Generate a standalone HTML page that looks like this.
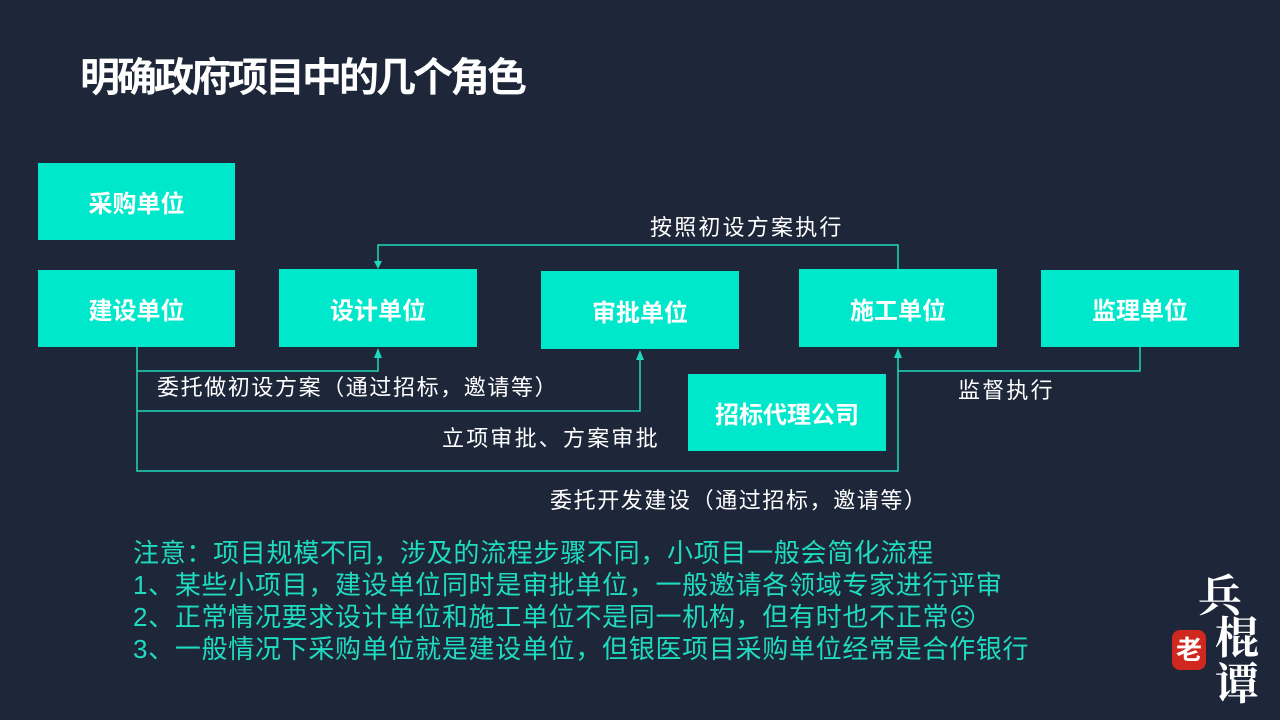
<!DOCTYPE html>
<html><head><meta charset="utf-8"><style>
body{margin:0;width:1280px;height:720px;background:#1e2639;overflow:hidden;position:relative;font-family:"Liberation Sans","Noto Sans CJK SC",sans-serif;}
.t{position:absolute;white-space:nowrap;}
.box{position:absolute;background:#00e8cc;color:#fff;font-weight:bold;font-size:24px;display:flex;align-items:center;justify-content:center;}
.lbl{position:absolute;color:#fff;font-size:22px;letter-spacing:2.2px;white-space:nowrap;line-height:1;}
.note{position:absolute;left:133px;color:#1fdcc0;font-size:26px;letter-spacing:0.7px;white-space:nowrap;line-height:1;}
</style></head><body>
<div class="t" style="left:80px;top:56px;color:#fff;font-size:40px;font-weight:bold;letter-spacing:-3px;line-height:44px;">明确政府项目中的几个角色</div>

<svg width="1280" height="720" style="position:absolute;left:0;top:0">
<g fill="none" stroke="#1fd8be" stroke-width="1.5">
<polyline points="898,269 898,245 378,245 378,262"/>
<polyline points="137,347 137,471 898,471 898,357"/>
<polyline points="137,371 378,371 378,357"/>
<polyline points="137,411 640,411 640,359"/>
<polyline points="1140,347 1140,371 898,371"/>
</g>
<g fill="#1fd8be">
<path d="M374,261 L382,261 L378,269 z"/>
<path d="M374,358 L382,358 L378,348 z"/>
<path d="M636,360 L644,360 L640,350 z"/>
<path d="M894,358 L902,358 L898,348 z"/>
</g>
</svg>

<div class="box" style="left:38px;top:163px;width:197px;height:77px">采购单位</div>
<div class="box" style="left:38px;top:270px;width:197px;height:77px">建设单位</div>
<div class="box" style="left:279px;top:269px;width:198px;height:78px">设计单位</div>
<div class="box" style="left:541px;top:271px;width:198px;height:78px">审批单位</div>
<div class="box" style="left:799px;top:269px;width:198px;height:78px">施工单位</div>
<div class="box" style="left:1041px;top:270px;width:198px;height:77px">监理单位</div>
<div class="box" style="left:688px;top:374px;width:198px;height:77px">招标代理公司</div>

<div class="lbl" style="left:650px;top:217px">按照初设方案执行</div>
<div class="lbl" style="left:157px;top:377px;letter-spacing:1.6px">委托做初设方案（通过招标，邀请等）</div>
<div class="lbl" style="left:442px;top:428px">立项审批、方案审批</div>
<div class="lbl" style="left:958px;top:380px">监督执行</div>
<div class="lbl" style="left:550px;top:490px;letter-spacing:1.6px">委托开发建设（通过招标，邀请等）</div>

<div class="note" style="top:540px">注意：项目规模不同，涉及的流程步骤不同，小项目一般会简化流程</div>
<div class="note" style="top:572px">1、某些小项目，建设单位同时是审批单位，一般邀请各领域专家进行评审</div>
<div class="note" style="top:604px">2、正常情况要求设计单位和施工单位不是同一机构，但有时也不正常☹</div>
<div class="note" style="top:636px">3、一般情况下采购单位就是建设单位，但银医项目采购单位经常是合作银行</div>

<div class="t" style="left:1198px;top:570px;color:#fff;font-size:44px;font-weight:bold;line-height:44px;font-family:'Noto Serif CJK SC',serif">兵</div>
<div class="t" style="left:1215px;top:612px;color:#fff;font-size:44px;font-weight:bold;line-height:44px;font-family:'Noto Serif CJK SC',serif">棍</div>
<div class="t" style="left:1215px;top:658px;color:#fff;font-size:44px;font-weight:bold;line-height:44px;font-family:'Noto Serif CJK SC',serif">谭</div>
<div class="t" style="left:1172px;top:630px;width:34px;height:40px;background:#d0281e;border-radius:8px;color:#fff;font-size:26px;font-weight:bold;text-align:center;line-height:40px">老</div>
</body></html>
